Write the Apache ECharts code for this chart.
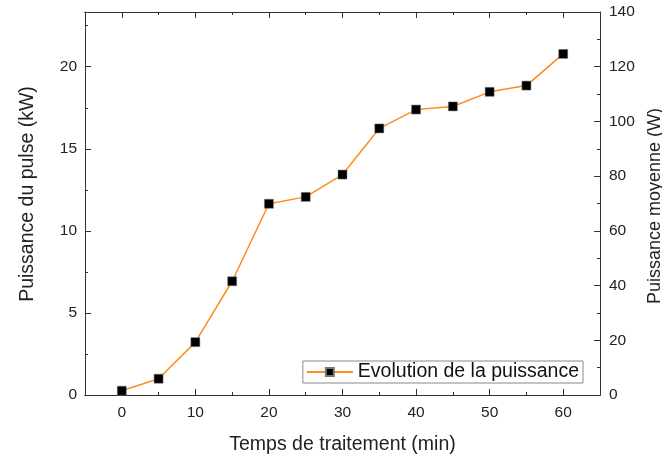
<!DOCTYPE html>
<html>
<head>
<meta charset="utf-8">
<script src="https://cdn.jsdelivr.net/npm/echarts@6/dist/echarts.min.js"></script>
<style>html,body{margin:0;padding:0;background:#fff}#c{width:662px;height:454px}</style>
</head>
<body>
<div id="c"></div>
<script>
var times = [0, 5, 10, 15, 20, 25, 30, 35, 40, 45, 50, 55, 60];
var pulsePower = [0.26, 0.99, 3.22, 6.93, 11.65, 12.07, 13.43, 16.24, 17.39, 17.58, 18.47, 18.85, 20.78];
var seriesName = 'Evolution de la puissance';
var xTitle = 'Temps de traitement (min)';
var yLeftTitle = 'Puissance du pulse (kW)';
var yRightTitle = 'Puissance moyenne (W)';

var FONT = 'Liberation Sans, Arial, sans-serif';
var AX = '#333';
var TICKFS = 15.5;
var TITLEFS = 19.5;
var chart = echarts.init(document.getElementById('c'), null, {renderer: 'canvas'});

function xAx(pos, major, showLabel, showName) {
  var a = {
    type: 'value', position: pos, min: -5, max: 65,
    axisLine: {show: true, onZero: false, lineStyle: {color: AX, width: 1}},
    axisTick: {show: true, inside: true, length: major ? 6 : 3, lineStyle: {color: AX, width: 1}},
    splitLine: {show: false},
    axisLabel: {show: showLabel, showMinLabel: false, showMaxLabel: false, fontSize: TICKFS, color: '#222', fontFamily: FONT, margin: 10}
  };
  if (major) { a.minInterval = 10; a.maxInterval = 10; } else { a.interval = 5; }
  if (showName) {
    a.name = xTitle; a.nameLocation = 'middle'; a.nameGap = 40;
    a.nameTextStyle = {fontSize: TITLEFS, color: '#222', fontFamily: FONT};
  }
  return a;
}

var option = {
  animation: false,
  backgroundColor: '#fff',
  grid: {left: 85, right: 62, top: 12, bottom: 59, containLabel: false, outerBoundsMode: 'none'},
  xAxis: [xAx('bottom', true, true, true), xAx('bottom', false, false, false), xAx('top', true, false, false), xAx('top', false, false, false)],
  yAxis: [
    {
      type: 'value', position: 'left', min: 0, max: 140 / 6, minInterval: 5, maxInterval: 5,
      name: yLeftTitle, nameLocation: 'middle', nameGap: 47,
      nameTextStyle: {fontSize: TITLEFS, color: '#222', fontFamily: FONT, padding: [0, 0, 0, 19]},
      axisLine: {show: true, onZero: false, lineStyle: {color: AX, width: 1}},
      axisTick: {show: true, inside: true, length: 6, lineStyle: {color: AX}},
      splitLine: {show: false},
      axisLabel: {showMaxLabel: false, fontSize: TICKFS, color: '#222', fontFamily: FONT, margin: 8,
        formatter: function (v) { return (Math.abs(v % 5) < 1e-6) ? String(v) : ''; }}
    },
    {
      type: 'value', position: 'left', min: 0, max: 140 / 6, interval: 2.5,
      axisLine: {show: false, onZero: false},
      axisTick: {show: true, inside: true, length: 3, lineStyle: {color: AX}},
      splitLine: {show: false}, axisLabel: {show: false}
    },
    {
      type: 'value', position: 'right', min: 0, max: 140, interval: 20,
      name: yRightTitle, nameLocation: 'middle', nameGap: 39, nameRotate: 90,
      nameTextStyle: {fontSize: 18, color: '#222', fontFamily: FONT, padding: [0, 5, 0, 0]},
      axisLine: {show: true, onZero: false, lineStyle: {color: AX, width: 1}},
      axisTick: {show: true, inside: true, length: 6, lineStyle: {color: AX}},
      minorTick: {show: true, splitNumber: 2, length: 3, lineStyle: {color: AX}},
      splitLine: {show: false},
      axisLabel: {fontSize: TICKFS, color: '#222', fontFamily: FONT, margin: 9}
    }
  ],
  legend: {
    right: 79, bottom: 71, orient: 'horizontal',
    borderColor: '#888', borderWidth: 1, backgroundColor: '#fff',
    padding: [1, 4, 1, 3], itemWidth: 46, itemHeight: 10, itemGap: 4,
    textStyle: {fontSize: TITLEFS, color: '#111', fontFamily: FONT},
    data: [seriesName]
  },
  series: [{
    name: seriesName, type: 'line', xAxisIndex: 0, yAxisIndex: 0,
    data: times.map(function (t, i) { return [t, pulsePower[i]]; }),
    symbol: 'rect', symbolSize: 9,
    itemStyle: {color: '#000', borderColor: '#777', borderWidth: 0.5},
    lineStyle: {color: '#ff8c1a', width: 1.5},
    z: 3
  }]
};
chart.setOption(option);
</script>
</body>
</html>
